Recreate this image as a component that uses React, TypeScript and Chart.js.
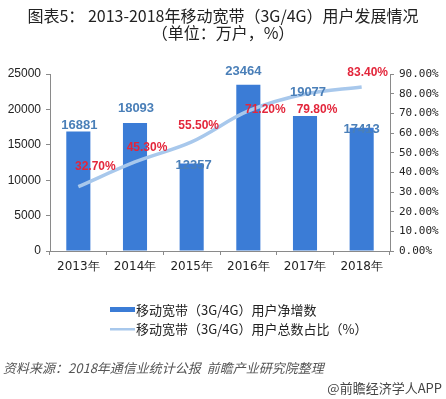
import React, { useEffect, useRef } from "react";
import { Chart, registerables } from "chart.js";

Chart.register(...registerables);

const categories = ["2013年", "2014年", "2015年", "2016年", "2017年", "2018年"];
const netAdds = [16881, 18093, 12357, 23464, 19077, 17413];
const sharePct = [32.7, 45.3, 55.5, 71.2, 79.8, 83.4];
const titleLines = ["图表5： 2013-2018年移动宽带（3G/4G）用户发展情况", "（单位：万户，%）"];
const legendLabels = ["移动宽带（3G/4G）用户净增数", "移动宽带（3G/4G）用户总数占比（%）"];
const sourceText = "资料来源：2018年通信业统计公报  前瞻产业研究院整理";
const brandText = "@前瞻经济学人APP";

const BAR_COLOR = "#3b7cd6";
const LINE_COLOR = "#a8c8ec";
const BAR_LABEL_COLOR = "#4a7fb8";
const PCT_LABEL_COLOR = "#e3263b";
const AXIS_COLOR = "#8a8a8a";

// label offsets (dx, dy) relative to mark position
const barLabelOffsets = [[1, -6], [1, -14], [2, 2], [-5, -13], [3, -24], [0, 2]];
const pctLabelOffsets = [[17, -20], [12, -14], [7, -16], [17, -1], [12, 16], [6, -14]];

const overlayPlugin = {
  id: "overlay",
  afterDatasetsDraw(chart: any) {
    const ctx = chart.ctx;
    ctx.save();
    ctx.textAlign = "center";
    ctx.textBaseline = "middle";
    const barMeta = chart.getDatasetMeta(0);
    ctx.font = "bold 13px 'Liberation Sans', Arial, sans-serif";
    ctx.fillStyle = BAR_LABEL_COLOR;
    barMeta.data.forEach((el: any, i: number) => {
      const [dx, dy] = barLabelOffsets[i];
      ctx.fillText(String(netAdds[i]), el.x + dx, el.y + dy);
    });
    const lineMeta = chart.getDatasetMeta(1);
    ctx.font = "bold 12px 'Liberation Sans', Arial, sans-serif";
    ctx.fillStyle = PCT_LABEL_COLOR;
    lineMeta.data.forEach((el: any, i: number) => {
      const [dx, dy] = pctLabelOffsets[i];
      ctx.fillText(sharePct[i].toFixed(2) + "%", el.x + dx, el.y + dy);
    });
    ctx.restore();
  },
  afterDraw(chart: any) {
    const ctx = chart.ctx;
    ctx.save();
    ctx.textBaseline = "middle";
    // title
    ctx.textAlign = "center";
    ctx.fillStyle = "#222";
    ctx.font = "16px 'Noto Sans CJK SC', sans-serif";
    ctx.fillText(titleLines[0], 223, 16);
    ctx.fillText(titleLines[1], 223, 33);
    // legend
    ctx.textAlign = "left";
    ctx.font = "13px 'Noto Sans CJK SC', sans-serif";
    ctx.fillStyle = BAR_COLOR;
    ctx.fillRect(110, 307, 25, 5);
    ctx.fillStyle = LINE_COLOR;
    ctx.fillRect(110, 328, 25, 2.5);
    ctx.fillStyle = "#222";
    ctx.fillText(legendLabels[0], 136, 310);
    ctx.fillText(legendLabels[1], 136, 329);
    // source
    ctx.fillStyle = "#555";
    ctx.font = "italic 13px 'Noto Sans CJK SC', sans-serif";
    ctx.fillText(sourceText, 3, 368);
    ctx.textAlign = "right";
    ctx.fillStyle = "#444";
    ctx.font = "13px 'Noto Sans CJK SC', sans-serif";
    ctx.fillText(brandText, 442, 388);
    ctx.restore();
  },
};

export default function App() {
  const ref = useRef<HTMLCanvasElement>(null);
  useEffect(() => {
    if (!ref.current) return;
    const chart = new Chart(ref.current, {
      data: {
        labels: categories,
        datasets: [
          {
            type: "bar",
            label: legendLabels[0],
            data: netAdds,
            backgroundColor: BAR_COLOR,
            yAxisID: "y",
            barPercentage: 0.85,
            categoryPercentage: 0.5,
            order: 2,
          },
          {
            type: "line",
            label: legendLabels[1],
            data: sharePct,
            borderColor: LINE_COLOR,
            borderWidth: 3.5,
            pointRadius: 0,
            tension: 0.35,
            yAxisID: "y1",
            order: 1,
          },
        ],
      } as any,
      options: {
        animation: false,
        responsive: false,
        layout: { padding: { top: 74, bottom: 118, left: 0, right: 0 } },
        plugins: { legend: { display: false }, title: { display: false }, tooltip: { enabled: false } },
        scales: {
          x: {
            grid: { display: true, drawOnChartArea: false, tickLength: 4, color: AXIS_COLOR, offset: true },
            border: { color: AXIS_COLOR },
            ticks: { color: "#222", font: { size: 12, family: "'DejaVu Sans', sans-serif" }, padding: 5, maxRotation: 0 },
            afterFit: (s: any) => { s.height = 30; },
          },
          y: {
            position: "left",
            min: 0,
            max: 25000,
            ticks: {
              stepSize: 5000,
              color: "#222",
              font: { size: 12, family: "'Liberation Sans', Arial, sans-serif" },
              padding: 5,
              callback: (v: any) => String(v),
            },
            grid: { display: true, drawOnChartArea: false, tickLength: 4, color: AXIS_COLOR },
            border: { color: AXIS_COLOR },
            afterFit: (s: any) => { s.width = 50; },
          },
          y1: {
            position: "right",
            min: 0,
            max: 90,
            ticks: {
              stepSize: 10,
              color: "#222",
              font: { size: 11, family: "'DejaVu Sans Mono', monospace" },
              padding: 5,
              callback: (v: any) => Number(v).toFixed(2) + "%",
            },
            grid: { display: true, drawOnChartArea: false, tickLength: 4, color: AXIS_COLOR },
            border: { color: AXIS_COLOR },
            afterFit: (s: any) => { s.width = 56; },
          },
        },
      },
      plugins: [overlayPlugin],
    });
    return () => chart.destroy();
  }, []);
  return (
    <div style={{ position: "absolute", left: 0, top: 0, width: 446, height: 399, background: "#fff" }}>
      <canvas ref={ref} width={446} height={399} style={{ width: 446, height: 399 }} />
    </div>
  );
}
